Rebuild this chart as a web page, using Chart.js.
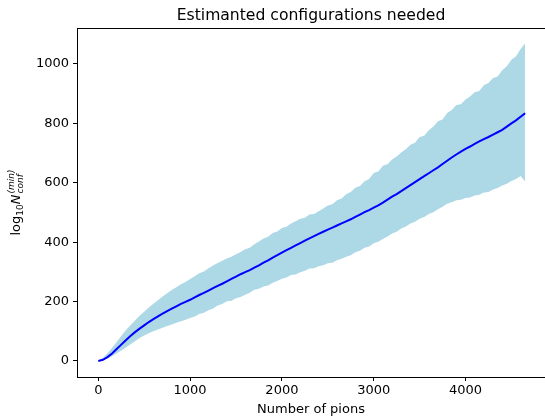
<!DOCTYPE html>
<html>
<head>
<meta charset="utf-8">
<script src="https://cdn.jsdelivr.net/npm/chart.js@4/dist/chart.umd.min.js"></script>
<style>
  html, body { margin: 0; padding: 0; background: #fff; }
  #wrap { width: 545px; height: 416px; }
</style>
</head>
<body>
<div id="wrap"><canvas id="c" width="545" height="416"></canvas></div>
<script>
// Number of pions (x)
const pions = [
  0, 50, 100, 150, 200, 250, 300, 350, 400, 450, 500, 550, 600, 650, 700, 750, 800, 850, 900, 950,
  1000, 1050, 1100, 1150, 1200, 1250, 1300, 1350, 1400, 1450, 1500, 1550, 1600, 1650, 1700, 1750, 1800, 1850, 1900, 1950,
  2000, 2050, 2100, 2150, 2200, 2250, 2300, 2350, 2400, 2450, 2500, 2550, 2600, 2650, 2700, 2750, 2800, 2850, 2900, 2950,
  3000, 3050, 3100, 3150, 3200, 3250, 3300, 3350, 3400, 3450, 3500, 3550, 3600, 3650, 3700, 3750, 3800, 3850, 3900, 3950,
  4000, 4050, 4100, 4150, 4200, 4250, 4300, 4350, 4400, 4450, 4500, 4550, 4600, 4650
];
// mean estimate
const meanVals = [
  0, 4, 13, 25, 40, 55, 70, 84, 97, 109, 120, 131, 141, 150, 159, 168, 176, 184, 192, 199,
  206, 214, 222, 229, 237, 245, 253, 260, 268, 276, 284, 292, 299, 306, 314, 322, 331, 339, 348, 356,
  365, 373, 381, 389, 397, 405, 413, 420, 428, 435, 442, 449, 456, 463, 470, 477, 485, 493, 501, 508,
  516, 524, 533, 543, 553, 562, 572, 582, 592, 602, 612, 622, 632, 642, 652, 663, 674, 685, 695, 705,
  714, 722, 731, 739, 747, 754, 762, 770, 778, 789, 800, 810, 822, 834
];
// upper edge of band
const upperVals = [
  0, 10, 26, 44, 64, 84, 103, 120, 136, 152, 166, 180, 193, 204, 217, 228, 239, 248, 258, 266,
  276, 285, 295, 301, 312, 321, 330, 337, 345, 351, 359, 367, 376, 381, 393, 402, 412, 418, 431, 436,
  448, 452, 463, 470, 479, 482, 493, 495, 504, 513, 523, 528, 541, 547, 561, 569, 583, 589, 605, 613,
  633, 638, 657, 662, 678, 688, 702, 713, 728, 735, 754, 758, 777, 789, 807, 813, 835, 845, 862, 864,
  880, 890, 905, 909, 928, 936, 953, 958, 979, 992, 1014, 1026, 1050, 1070
];
// lower edge of band
const lowerVals = [
  0, 3, 8, 16, 26, 35, 45, 56, 66, 77, 86, 93, 100, 106, 112, 118, 123, 129, 134, 139,
  145, 150, 158, 162, 171, 177, 187, 192, 201, 203, 211, 215, 223, 230, 240, 243, 251, 254, 263, 269,
  277, 281, 289, 291, 299, 304, 311, 312, 319, 322, 329, 331, 339, 344, 351, 356, 366, 371, 381, 385,
  396, 401, 411, 419, 429, 435, 446, 453, 463, 469, 479, 485, 495, 501, 511, 519, 529, 534, 541, 543,
  549, 550, 557, 560, 567, 569, 577, 582, 591, 597, 606, 613, 623, 604
];
const xTicks = [0, 1000, 2000, 3000, 4000];
const yTicks = [0, 200, 400, 600, 800, 1000];

const pts = arr => arr.map((v, i) => ({ x: pions[i], y: v }));
const FONT = '"DejaVu Sans", sans-serif';

// frame, title, axis labels (matplotlib style)
const decor = {
  id: 'decor',
  afterDraw(chart) {
    const { ctx, chartArea: a } = chart;
    ctx.save();
    ctx.strokeStyle = '#000';
    ctx.lineWidth = 1;
    ctx.beginPath();
    ctx.moveTo(a.left, a.top + 0.5);
    ctx.lineTo(a.right, a.top + 0.5);
    ctx.stroke();
    ctx.fillStyle = '#000';
    ctx.textAlign = 'center';
    ctx.textBaseline = 'alphabetic';
    ctx.font = '15.6px ' + FONT;
    ctx.fillText('Estimanted configurations needed', (a.left + a.right) / 2, 20);
    ctx.font = '13px ' + FONT;
    ctx.fillText('Number of pions', (a.left + a.right) / 2, 413);

    // y label: log10 N^(min)_conf
    ctx.translate(20, (a.top + a.bottom) / 2);
    ctx.rotate(-Math.PI / 2);
    ctx.textAlign = 'left';
    const big = '13px ' + FONT, small = '9px ' + FONT;
    const bigI = 'italic 13px ' + FONT, smallI = 'italic 9px ' + FONT;
    ctx.font = big; const w1 = ctx.measureText('log').width;
    ctx.font = small; const w2 = ctx.measureText('10').width;
    ctx.font = bigI; const w3 = ctx.measureText('N').width;
    ctx.font = smallI; const w4 = Math.max(ctx.measureText('(min)').width, ctx.measureText('conf').width);
    let x = -(w1 + w2 + w3 + w4 + 1) / 2;
    ctx.font = big; ctx.fillText('log', x, 0); x += w1;
    ctx.font = small; ctx.fillText('10', x, 3); x += w2;
    ctx.font = bigI; ctx.fillText('N', x, 0); x += w3 + 1;
    ctx.font = smallI; ctx.fillText('(min)', x, -6); ctx.fillText('conf', x, 3);
    ctx.restore();
  }
};

new Chart(document.getElementById('c'), {
  type: 'line',
  data: {
    datasets: [
      { data: pts(upperVals), order: 2, borderWidth: 0, pointRadius: 0, fill: '+1', backgroundColor: '#ADD8E6', borderColor: '#ADD8E6' },
      { data: pts(lowerVals), order: 1, borderWidth: 0, pointRadius: 0, fill: false, borderColor: '#ADD8E6' },
      { data: pts(meanVals), order: 0, borderWidth: 2, pointRadius: 0, fill: false, borderColor: '#0000FF' }
    ]
  },
  options: {
    responsive: false,
    animation: false,
    layout: { padding: { top: 28, right: 0, left: 0, bottom: 0 } },
    plugins: { legend: { display: false }, tooltip: { enabled: false }, title: { display: false } },
    scales: {
      x: {
        type: 'linear', min: -232, max: 4866,
        afterBuildTicks: s => { s.ticks = xTicks.map(v => ({ value: v })); },
        afterFit: s => { s.height = 39; },
        grid: { drawOnChartArea: false, drawTicks: true, tickLength: 4, color: '#000' },
        border: { display: true, color: '#000' },
        ticks: { color: '#000', font: { family: FONT, size: 13 }, padding: 2, maxRotation: 0, callback: v => String(v) }
      },
      y: {
        type: 'linear', min: -54, max: 1121,
        afterBuildTicks: s => { s.ticks = yTicks.map(v => ({ value: v })); },
        afterFit: s => { s.width = 77; },
        grid: { drawOnChartArea: false, drawTicks: true, tickLength: 4, color: '#000' },
        border: { display: true, color: '#000' },
        ticks: { color: '#000', font: { family: FONT, size: 13 }, padding: 4, callback: v => String(v) }
      }
    }
  },
  plugins: [decor]
});
</script>
</body>
</html>
